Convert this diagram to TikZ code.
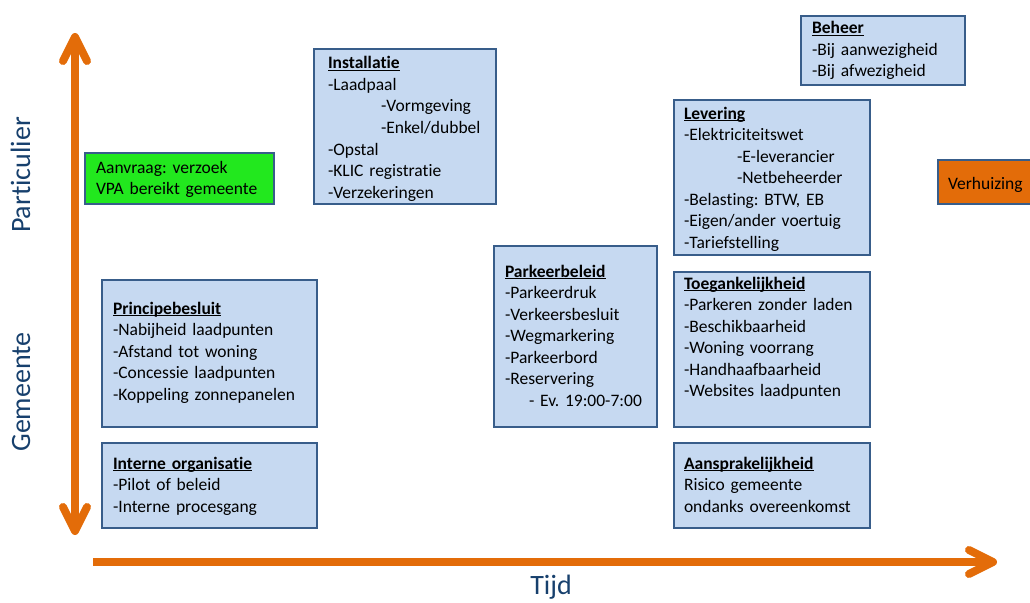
\documentclass[tikz,border=0pt]{standalone}
\usepackage{fontspec}
\setmainfont{Carlito}[Ligatures=NoCommon]
\usepackage{tikz}
\usetikzlibrary{positioning, arrows.meta}

\definecolor{oranje}{RGB}{227,108,9}
\definecolor{rand}{RGB}{56,93,138}
\definecolor{vulling}{RGB}{198,217,241}
\definecolor{groen}{RGB}{34,232,30}
\definecolor{asblauw}{RGB}{23,64,109}

\newcommand{\kop}[1]{\underline{\smash{\textbf{#1}}}}
\frenchspacing

\begin{document}
\begin{tikzpicture}[
    x=1pt, y=-1pt,
    >={Straight Barb[length=24pt, width=24pt, round]},
    pijl/.style={oranje, line width=8pt},
    aslabel/.style={asblauw, font=\fontsize{28}{34}\selectfont, anchor=base},
    vak/.style={draw=rand, fill=vulling, line width=2pt, anchor=north west,
        align=left, inner xsep=11pt, inner ysep=0pt,
        font=\fontsize{17.5}{21.5}\selectfont}
]
\useasboundingbox (0,0) rectangle (1030,602);

% assen
\coordinate (boven) at (75,33);
\coordinate (onder) at (75,535);
\coordinate (start) at (93,562);
\coordinate (eind) at (997,562);
\draw[pijl, <->] (onder) -- (boven);
\draw[pijl, ->] (start) -- (eind);

\node[aslabel, rotate=90] (particulier) at (30,175) {Particulier};
\node[aslabel, rotate=90] (gemeente) at (30,392) {Gemeente};
\node[aslabel] (tijd) at (551,594) {Tijd};

% particulier
\node[vak, fill=groen, text width=167pt, text height=20pt, text depth=31pt]
    (aanvraag) at (84,152) {Aanvraag: verzoek\\VPA bereikt gemeente};
\node[vak, inner xsep=14pt, text width=154pt, text height=20pt, text depth=135pt]
    (installatie) at (313,48) {\kop{Installatie}\\-Laadpaal\\
    \hspace*{53pt}-Vormgeving\\\hspace*{53pt}-Enkel/dubbel\\
    -Opstal\\-KLIC registratie\\-Verzekeringen};
\node[vak, text width=142pt, text height=18pt, text depth=51pt]
    (beheer) at (800,15) {\kop{Beheer}\\-Bij aanwezigheid\\-Bij afwezigheid};
\node[vak, inner xsep=10pt, text width=176pt, text height=19pt, text depth=136pt]
    (levering) at (673,99) {\kop{Levering}\\-Elektriciteitswet\\
    \hspace*{53pt}-E-leverancier\\\hspace*{53pt}-Netbeheerder\\
    -Belasting: BTW, EB\\-Eigen/ander voertuig\\-Tariefstelling};
\node[vak, fill=oranje, inner xsep=10pt, text width=83pt, text height=29pt, text depth=15pt]
    (verhuizing) at (937,159) {Verhuizing};

% gemeente
\node[vak, text width=193pt, text height=34pt, text depth=113pt]
    (principe) at (101,279) {\kop{Principebesluit}\\-Nabijheid laadpunten\\
    -Afstand tot woning\\-Concessie laadpunten\\-Koppeling zonnepanelen};
\node[vak, text width=193pt, text height=26pt, text depth=59pt]
    (intern) at (101,442) {\kop{Interne organisatie}\\-Pilot of beleid\\
    -Interne procesgang};
\node[vak, text width=141pt, text height=31pt, text depth=150pt]
    (parkeer) at (493,245) {\kop{Parkeerbeleid}\\-Parkeerdruk\\-Verkeersbesluit\\
    -Wegmarkering\\-Parkeerbord\\-Reservering\\\hspace*{24pt}- Ev. 19:00-7:00};
\node[vak, inner xsep=10pt, text width=176pt, text height=17pt, text depth=138pt]
    (toegang) at (673,271) {\kop{Toegankelijkheid}\\-Parkeren zonder laden\\
    -Beschikbaarheid\\-Woning voorrang\\-Handhaafbaarheid\\-Websites laadpunten};
\node[vak, inner xsep=10pt, text width=176pt, text height=26pt, text depth=59pt]
    (aansprak) at (673,442) {\kop{Aansprakelijkheid}\\Risico gemeente\\
    ondanks overeenkomst};

\end{tikzpicture}
\end{document}
